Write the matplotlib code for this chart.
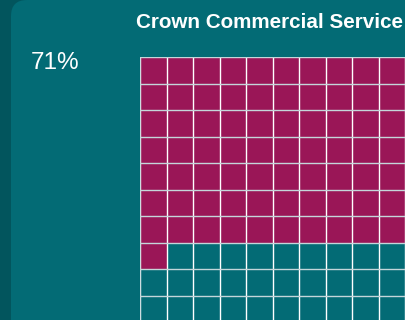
import numpy as np
import matplotlib.pyplot as plt
from matplotlib.patches import FancyBboxPatch, Rectangle

# data
title = "Crown Commercial Service"
share = 71          # percent of squares filled
n_rows, n_cols = 10, 10

teal = '#036b75'
dark = '#02555d'
magenta = '#9a1657'

fig = plt.figure(figsize=(4.05, 3.2), dpi=100)
fig.patch.set_facecolor(dark)

# rounded panel (behind everything else)
panel = FancyBboxPatch((0.11, -1.0), 5.0, 4.2, boxstyle="round,pad=0,rounding_size=0.16",
                       transform=fig.dpi_scale_trans, facecolor=teal, edgecolor='none',
                       zorder=-5)
fig.patches.append(panel)

fig.text(136 / 405, 1 - 22 / 320, title, color='white', fontsize=14.9, fontweight='bold',
         family=['Liberation Sans', 'DejaVu Sans'], ha='left', va='center')
fig.text(31 / 405, 1 - 63 / 320, f"{share}%", color='white', fontsize=17.5,
         family=['Liberation Sans', 'DejaVu Sans'], ha='left', va='center')

# waffle grid
ax = fig.add_axes([140 / 405, 1 - 322 / 320, 265 / 405, 265 / 320])
ax.set_zorder(2)
ax.set_xlim(0, n_cols)
ax.set_ylim(n_rows, 0)
ax.axis('off')

for i in range(n_rows * n_cols):
    r, c = divmod(i, n_cols)
    color = magenta if i < share else teal
    ax.add_patch(Rectangle((c, r), 1, 1, facecolor=color, edgecolor='none'))

for c in range(n_cols + 1):
    ax.axvline(c, color='white', lw=1.0)
for r in range(n_rows + 1):
    ax.axhline(r, color='#c4d6da', lw=1.0)
ax.axvline(0, color='#c4d6da', lw=1.2)

fig.savefig('out.png', dpi=100, facecolor=fig.get_facecolor())
